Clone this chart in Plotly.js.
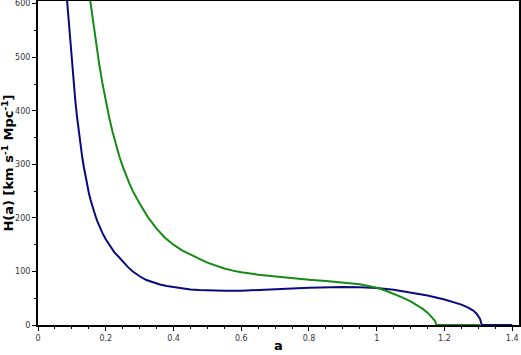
<!DOCTYPE html>
<html>
<head>
<meta charset="utf-8">
<script src="https://cdn.plot.ly/plotly-3.0.1.min.js"></script>
<style>html,body{margin:0;padding:0;background:#fff;overflow:hidden}#chart{width:521px;height:355px}</style>
</head>
<body>
<div id="chart"></div>
<script>
const aBlue = [0.084,0.09,0.095,0.10,0.105,0.11,0.115,0.12,0.125,0.13,0.135,0.14,0.145,0.15,0.155,0.16,0.165,0.17,0.175,0.18,0.19,0.20,0.21,0.225,0.24,0.25,0.265,0.28,0.30,0.32,0.34,0.36,0.38,0.40,0.425,0.45,0.475,0.50,0.55,0.60,0.65,0.70,0.75,0.80,0.85,0.90,0.95,1.00,1.05,1.10,1.15,1.20,1.225,1.25,1.27,1.285,1.295,1.30,1.305,1.31,1.40];
const hBlue = [620,570,530,492,455,420,390,362,338,316,296,278,262,247,234,222,212,203,194,186,172,160,150,136,126,118.5,108.5,100,91,84,79,75.5,72.8,70.6,68.3,66.5,65.3,64.6,64,64,65,66.5,68,69.5,70.5,71,70.5,69,66,61,55,47.5,43,38,32.5,27,21,17,11.5,0,0];
const aGreen = [0.15,0.16,0.17,0.18,0.19,0.20,0.21,0.22,0.23,0.24,0.25,0.26,0.27,0.28,0.29,0.30,0.325,0.35,0.375,0.40,0.425,0.45,0.475,0.50,0.525,0.55,0.575,0.60,0.65,0.70,0.75,0.80,0.85,0.90,0.95,0.975,1.00,1.025,1.05,1.075,1.10,1.12,1.136,1.15,1.16,1.166,1.172,1.176,1.304];
const hGreen = [625,578,532,490,452,418,388,361,337,315,296,279,264,250,238,227,201,180,163,150,139.5,131,124,116.5,110.5,105.5,101.5,98.5,94,90.5,87.3,84.5,82,79.5,76,73,69.5,64.5,58.5,51.5,44,37,30,23,17,13,8,0,0];

const xTickStep = 0.2, yTickStep = 100;
const xTitle = 'a';
const yTitle = 'H(a) [km s<sup>-1</sup> Mpc<sup>-1</sup>]';
const fontFam = 'DejaVu Sans, Verdana, sans-serif';

const traces = [
  {x: aBlue, y: hBlue, mode: 'lines', line: {color: '#0a0a80', width: 2}, hoverinfo: 'skip'},
  {x: aGreen, y: hGreen, mode: 'lines', line: {color: '#168a16', width: 2}, hoverinfo: 'skip'}
];

const axisCommon = {
  showline: true, mirror: true, linecolor: '#000', linewidth: 2,
  ticks: 'outside', ticklen: 4, tickwidth: 1, tickcolor: '#000',
  showgrid: false, zeroline: false, ticklabeloverflow: 'allow',
  tickfont: {family: fontFam, size: 8, color: '#333'}
};

const layout = {
  width: 521, height: 355,
  margin: {l: 38, r: 2, t: 1, b: 30},
  paper_bgcolor: '#fff', plot_bgcolor: '#fff',
  showlegend: false,
  xaxis: Object.assign({}, axisCommon, {
    range: [0, 1.42], dtick: xTickStep, tick0: 0,
    minor: {dtick: 0.05, ticks: 'outside', ticklen: 2, tickcolor: '#000'}
  }),
  yaxis: Object.assign({}, axisCommon, {
    range: [0, 605], dtick: yTickStep, tick0: 0,
    minor: {dtick: 50, ticks: 'outside', ticklen: 2, tickcolor: '#000'},
    title: {text: yTitle, standoff: 4, font: {family: fontFam, size: 13, color: '#000', weight: 'bold'}}
  }),
  annotations: [{
    text: '<b>' + xTitle + '</b>', xref: 'paper', yref: 'paper', x: 0.5, y: -0.062,
    xanchor: 'center', yanchor: 'middle', showarrow: false,
    font: {family: fontFam, size: 13, color: '#000'}
  }]
};

Plotly.newPlot('chart', traces, layout, {staticPlot: true, displayModeBar: false});
</script>
</body>
</html>
